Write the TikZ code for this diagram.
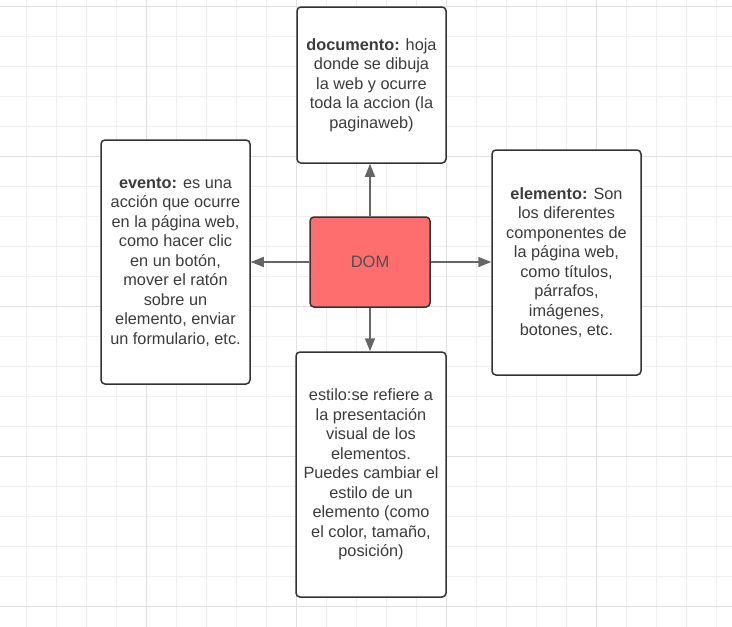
\documentclass[tikz,border=0pt]{standalone}
\usepackage{fontspec}
\setmainfont{Liberation Sans}
\usepackage{tikz}
\usetikzlibrary{arrows.meta}
\usetikzlibrary{positioning}

\definecolor{gridminor}{HTML}{EEEEEE}
\definecolor{gridmajor}{HTML}{E0E0E0}
\definecolor{boxline}{HTML}{333333}
\definecolor{txtgray}{HTML}{3C3C3C}
\definecolor{linkgray}{HTML}{666666}
\definecolor{domred}{HTML}{FF6E6E}

\begin{document}
\begin{tikzpicture}[x=1pt,y=-1pt]
		\tikzset{card/.style={draw=boxline, line width=1.5pt, rounded corners=4pt,
				fill=white, inner sep=0pt, align=center, text=txtgray,
				font=\fontsize{16.3}{19.5}\selectfont}}
		\tikzset{link/.style={draw=linkgray, line width=1.5pt,
				-{Triangle[length=13pt,width=10pt]}}}
		\useasboundingbox (0,0) rectangle (732,627);
		% grid
		\fill[white] (0,0) rectangle (732,627);
		\foreach \x in {26.7,56.7,...,732} { \draw[gridminor, line width=1pt] (\x,0) -- (\x,627); }
		\foreach \y in {6,36,...,627} { \draw[gridminor, line width=1pt] (0,\y) -- (732,\y); }
		\foreach \x in {146.7,296.7,...,732} { \draw[gridmajor, line width=1pt] (\x,0) -- (\x,627); }
		\foreach \y in {6,156,...,627} { \draw[gridmajor, line width=1pt] (0,\y) -- (732,\y); }
		% centro
		\node[card, fill=domred, minimum width=120pt, minimum height=90pt,
			font=\fontsize{16.5}{20}\selectfont, text=txtgray!90] (dom) at (370,262) {DOM};
		% cajas
		\node[card, minimum width=149pt, minimum height=156pt] (doc) at (371.5,85) {%
			\textbf{documento:} hoja\\ donde se dibuja\\ la web y ocurre\\
			toda la accion (la\\ paginaweb)};
		\node[card, minimum width=149pt, minimum height=244pt] (evt) at (175.5,262) {%
			\textbf{evento:} es una\\ acción que ocurre\\ en la página web,\\
			como hacer clic\\ en un botón,\\ mover el ratón\\ sobre un\\
			elemento, enviar\\ un formulario, etc.};
		\node[card, minimum width=149pt, minimum height=225pt] (elem) at (566.5,262.5) {%
			\textbf{elemento:} Son\\ los diferentes\\ componentes de\\
			la página web,\\ como títulos,\\ párrafos,\\ imágenes,\\ botones, etc.};
		\node[card, minimum width=150pt, minimum height=245pt] (est) at (371,474.5) {%
			estilo:se refiere a\\ la presentación\\ visual de los\\ elementos.\\
			Puedes cambiar el\\ estilo de un\\ elemento (como\\
			el color, tamaño,\\ posición)};
		% flechas
		\draw[link] (dom.north) -- (dom.north |- doc.south);
		\draw[link] (dom.west) -- (evt.east |- dom.west);
		\draw[link] (dom.east) -- (elem.west |- dom.east);
		\draw[link] (dom.south) -- (dom.south |- est.north);
\end{tikzpicture}
\end{document}
